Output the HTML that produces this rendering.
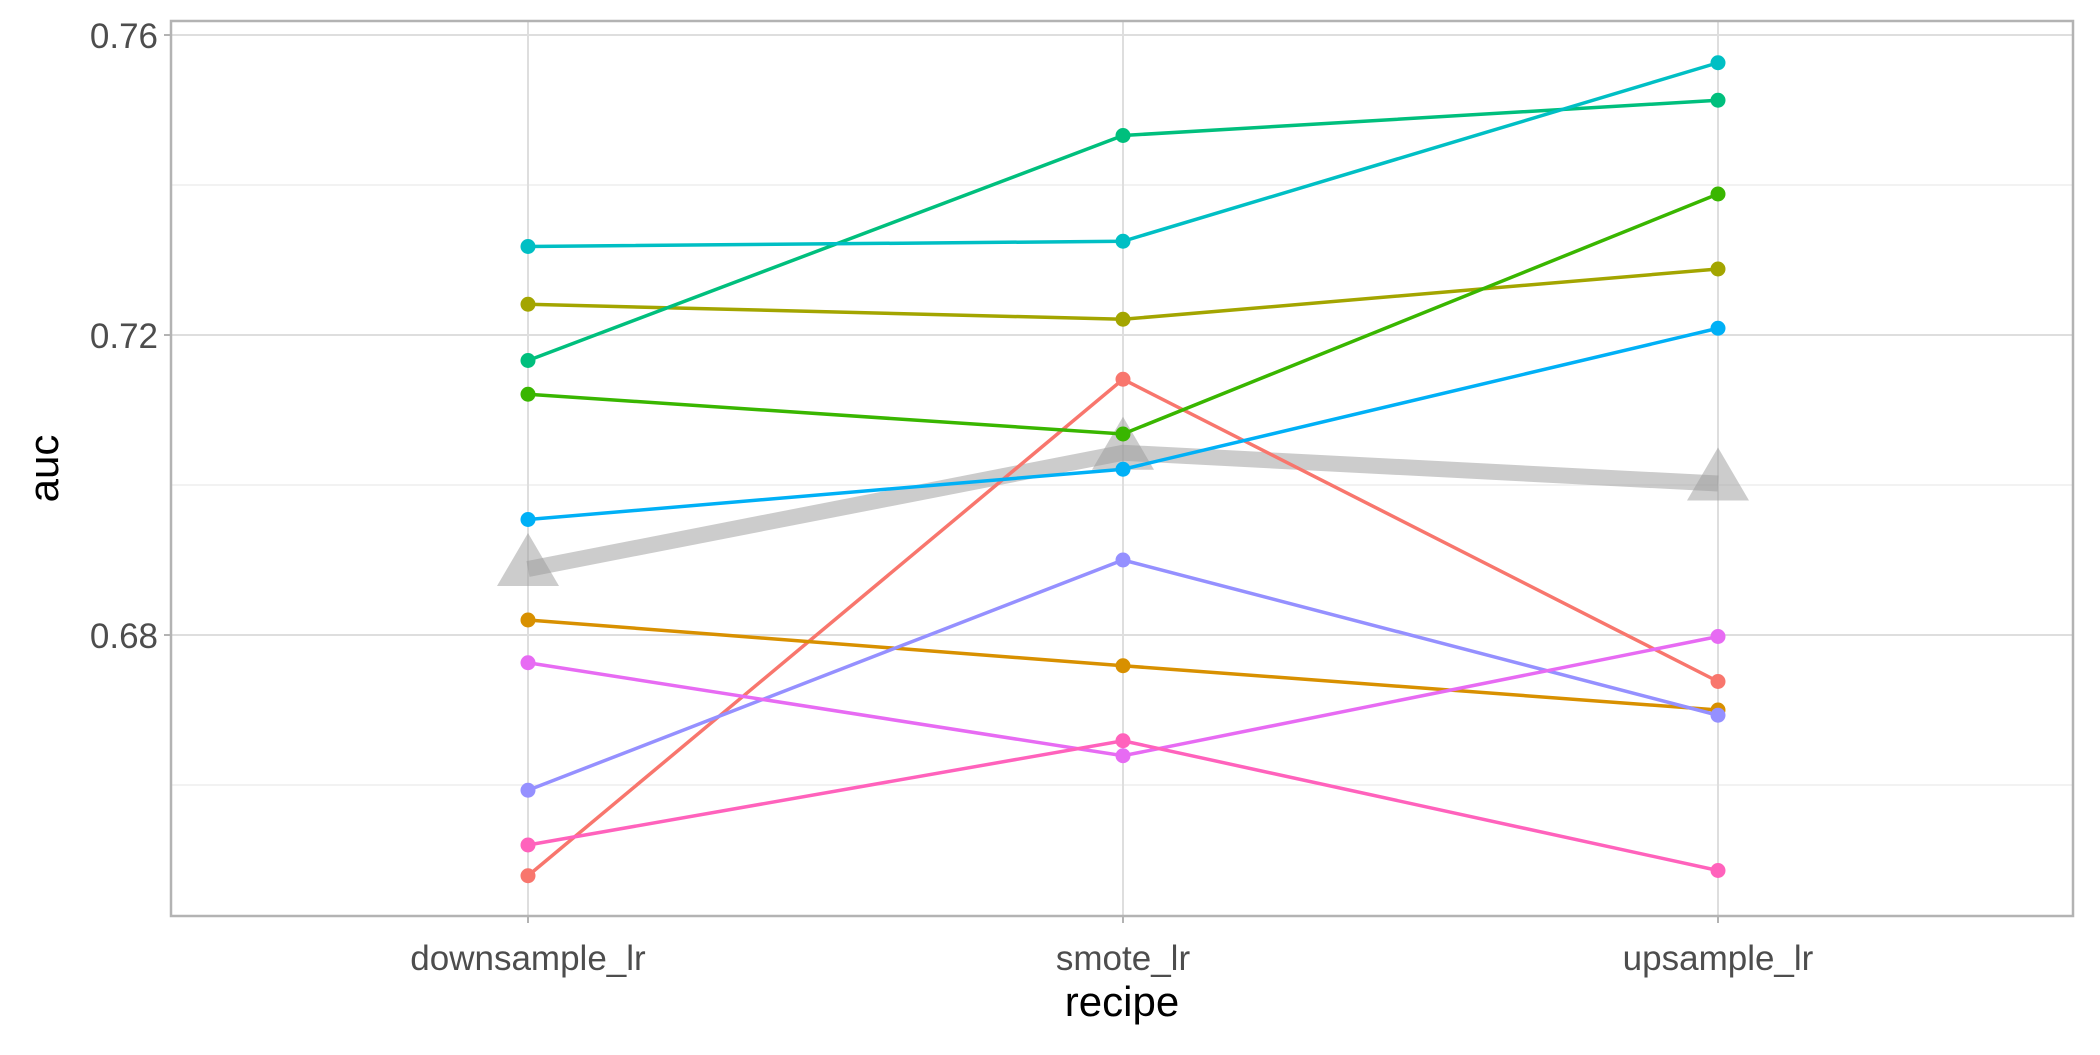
<!DOCTYPE html>
<html><head><meta charset="utf-8"><style>
html,body{margin:0;padding:0;background:#fff;}
svg text{font-family:"Liberation Sans",Arial,sans-serif;}
</style></head><body>
<svg id="chart" width="2100" height="1050" viewBox="0 0 2100 1050" xmlns="http://www.w3.org/2000/svg">
<rect width="2100" height="1050" fill="#fff"/>
<g id="grid"></g><g id="series"></g><g id="axes"></g>
</svg>
<script>
const categories = ["downsample_lr","smote_lr","upsample_lr"];
const yTicks = [0.68,0.72,0.76];
const yMinor = [0.66,0.70,0.74];
const colors = ["#F8766D","#D89000","#A3A500","#39B600","#00BF7D","#00BFC4","#00B0F6","#9590FF","#E76BF3","#FF62BC"];
const s1 = [0.6479,0.7141,0.6738];
const s2 = [0.6820,0.6759,0.6700];
const s3 = [0.7241,0.7221,0.7288];
const s4 = [0.7121,0.7068,0.7388];
const s5 = [0.7166,0.7466,0.7513];
const s6 = [0.7318,0.7325,0.7563];
const s7 = [0.6954,0.7021,0.7209];
const s8 = [0.6593,0.6900,0.6693];
const s9 = [0.6763,0.6639,0.6798];
const s10 = [0.6520,0.6659,0.6486];
const meanSeries = [0.6888,0.7043,0.7002];
const series = [s1,s2,s3,s4,s5,s6,s7,s8,s9,s10];

const NS="http://www.w3.org/2000/svg";
const L=171,R=2073,T=21,B=916;
const xPos=i=>528+i*595;
const yPos=v=>35+(0.76-v)*7500;
function mk(tag,attrs,parent){const e=document.createElementNS(NS,tag);for(const k in attrs)e.setAttribute(k,attrs[k]);parent.appendChild(e);return e;}
const grid=document.getElementById('grid'),sg=document.getElementById('series'),ax=document.getElementById('axes');
yMinor.forEach(v=>{const e=mk('line',{x1:L,x2:R,y1:yPos(v),y2:yPos(v),stroke:'#ebebeb','stroke-width':1.3},grid);

});
yTicks.forEach(v=>{const e=mk('line',{x1:L,x2:R,y1:yPos(v),y2:yPos(v),stroke:'#dedede','stroke-width':2},grid);

});
categories.forEach((c,i)=>{const e=mk('line',{x1:xPos(i),x2:xPos(i),y1:T,y2:B,stroke:'#dedede','stroke-width':2},grid);

});
const mp=mk('polyline',{points:meanSeries.map((v,i)=>xPos(i)+','+yPos(v)).join(' '),fill:'none',stroke:'#999','stroke-opacity':0.5,'stroke-width':16},sg);


meanSeries.forEach((v,i)=>{const x=xPos(i),y=yPos(v);
const t=mk('polygon',{points:`${x},${y-36} ${x-31},${y+17} ${x+31},${y+17}`,fill:'#999','fill-opacity':0.5},sg);

});
series.forEach((s,k)=>{
const p=mk('polyline',{points:s.map((v,i)=>xPos(i)+','+yPos(v)).join(' '),fill:'none',stroke:colors[k],'stroke-width':3.5},sg);


s.forEach((v,i)=>{const c=mk('circle',{cx:xPos(i),cy:yPos(v),r:7.5,fill:colors[k]},sg);

});
});
const fr=mk('rect',{x:L,y:T,width:R-L,height:B-T,fill:'none',stroke:'#b3b3b3','stroke-width':2.5},ax);


yTicks.forEach(v=>{
const tk=mk('line',{x1:L-7,x2:L,y1:yPos(v),y2:yPos(v),stroke:'#b3b3b3','stroke-width':2},ax);


const t=mk('text',{x:L-13,y:yPos(v)+13,'text-anchor':'end','font-size':35,fill:'#4d4d4d'},ax);
t.textContent=v.toFixed(2);

});
categories.forEach((c,i)=>{
const tk=mk('line',{x1:xPos(i),x2:xPos(i),y1:B,y2:B+7,stroke:'#b3b3b3','stroke-width':2},ax);


const t=mk('text',{x:xPos(i),y:B+54,'text-anchor':'middle','font-size':35,fill:'#4d4d4d'},ax);
t.textContent=c;

});
const xt=mk('text',{x:(L+R)/2,y:1016,'text-anchor':'middle','font-size':42,fill:'#000'},ax);
xt.textContent='recipe';


const yt=mk('text',{x:0,y:0,transform:`translate(58,${(T+B)/2}) rotate(-90)`,'text-anchor':'middle','font-size':42,fill:'#000'},ax);
yt.textContent='auc';


</script>
</body></html>
